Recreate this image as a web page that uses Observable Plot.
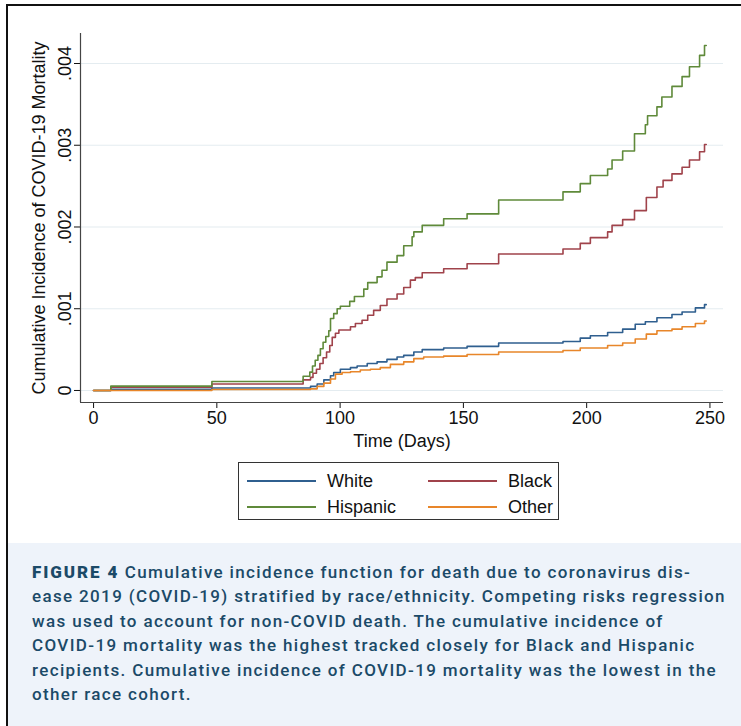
<!DOCTYPE html>
<html>
<head>
<meta charset="utf-8">
<script src="https://cdn.jsdelivr.net/npm/d3@7"></script>
<script src="https://cdn.jsdelivr.net/npm/@observablehq/plot@0.6"></script>
<style>
  html, body { margin: 0; padding: 0; background: #fff; }
  #page { position: relative; width: 741px; height: 726px; overflow: hidden; font-family: "Liberation Sans", Arial, sans-serif; }
  #vline { position: absolute; left: 6px; top: 4px; width: 2px; height: 722px; background: #111; }
  #hline { position: absolute; left: 6px; top: 4px; width: 735px; height: 2px; background: #111; }
  #chart { position: absolute; left: 0; top: 0; }
  #legend { position: absolute; left: 238px; top: 462px; width: 321px; height: 58px; border: 1px solid #333; box-sizing: border-box; }
  .lg-item { position: absolute; height: 20px; display: flex; align-items: center; font-size: 18px; color: #111; }
  .lg-swatch { width: 69px; height: 1.6px; margin-right: 11px; }
  #caption { position: absolute; left: 8px; top: 543px; width: 733px; height: 183px; background: #eef3fa; color: #1b4a68; font-family: Roboto, "Liberation Sans", sans-serif; font-size: 17px; font-weight: 500; letter-spacing: 1.35px; }
  #caption .ln { position: absolute; left: 24px; white-space: nowrap; line-height: 20px; }
  #caption b { font-weight: 900; letter-spacing: 1.9px; }
</style>
</head>
<body>
<div id="page">
  <div id="chart"></div>
  <div id="legend"></div>
  <div id="caption"></div>
  <div id="vline"></div>
  <div id="hline"></div>
</div>
<script>
// ---- data ----
const series = ["White", "Black", "Hispanic", "Other"];
const colors = ["#2f5f8f", "#a0434b", "#5f8a3a", "#e8862a"];

const whiteT = [0, 7, 48, 85, 88, 90.7, 93.4, 96.1, 97.4, 100.1, 104.2, 106.9, 111, 115, 119, 123.1, 125.8, 129.9, 133.3, 142, 151.5, 164.3, 190.4, 197.4, 201.5, 208.5, 214.6, 219.7, 223.8, 228.5, 234.6, 238.7, 244.1, 247.8, 248.5];
const whiteV = [0, 0.000016, 0.00003, 0.00003, 0.00005, 0.00008, 0.00013, 0.00018, 0.00022, 0.00026, 0.00028, 0.0003, 0.00033, 0.00035, 0.00038, 0.00041, 0.00043, 0.00047, 0.0005, 0.00052, 0.00054, 0.00058, 0.0006, 0.00064, 0.00067, 0.00071, 0.00075, 0.00081, 0.00084, 0.00089, 0.00093, 0.00096, 0.00101, 0.00105, 0.00105];

const blackT = [0, 7, 48, 85, 88, 89, 90.4, 91.8, 93.1, 94.5, 95.8, 96.8, 98.1, 99.5, 104.2, 106.2, 108.9, 111.2, 113.6, 116.3, 119, 123.1, 125.8, 128.5, 130.5, 133.3, 142, 151.5, 164.3, 190.4, 197.4, 201.5, 208.5, 210.3, 214.6, 219.4, 224.2, 228.5, 231, 234.6, 238.7, 241.7, 245.8, 247.8, 248.5];
const blackV = [0, 0.00004, 0.00008, 0.00013, 0.00016, 0.00021, 0.00026, 0.00033, 0.0004, 0.00047, 0.00055, 0.00065, 0.0007, 0.00074, 0.00078, 0.00082, 0.00086, 0.00092, 0.00098, 0.00104, 0.00112, 0.00118, 0.00126, 0.00135, 0.00138, 0.00144, 0.00149, 0.00155, 0.00167, 0.00173, 0.0018, 0.00187, 0.00194, 0.00202, 0.00209, 0.0022, 0.00236, 0.00249, 0.00257, 0.00265, 0.00273, 0.00282, 0.00292, 0.00301, 0.00301];

const hispT = [0, 7, 48, 85, 87.7, 88.8, 89.9, 91, 92, 93.1, 94.2, 95.4, 96.1, 97.4, 98.8, 100.1, 103.9, 105.8, 109.6, 111.2, 115, 117, 119, 123.1, 125.8, 129.2, 129.9, 133.3, 142, 151.5, 164.3, 190.4, 197.4, 201.5, 208.5, 210.3, 214.6, 219.4, 223.8, 224.7, 228.5, 230.5, 234.6, 238.7, 241.7, 245.8, 247.8, 248.5];
const hispV = [0, 0.000053, 0.00011, 0.000175, 0.000224, 0.0003, 0.00037, 0.00043, 0.00051, 0.00059, 0.00066, 0.00073, 0.00088, 0.00094, 0.001, 0.00103, 0.00109, 0.00115, 0.00124, 0.00132, 0.00139, 0.00147, 0.00157, 0.00165, 0.00177, 0.00188, 0.00194, 0.00202, 0.0021, 0.00216, 0.00233, 0.00243, 0.00253, 0.00263, 0.00271, 0.00282, 0.00293, 0.00314, 0.00325, 0.00336, 0.00347, 0.00359, 0.00372, 0.00384, 0.00396, 0.0041, 0.00422, 0.00422];

const otherT = [0, 48, 85, 88, 90.7, 93.4, 96.1, 98.1, 100.8, 104.2, 108.2, 112.3, 116.3, 120.4, 125.8, 129.9, 133.9, 142, 151.5, 164.3, 190.4, 197.4, 208.5, 214.6, 219.7, 224.2, 228.5, 234.6, 238.7, 244.1, 247.8, 248.5];
const otherV = [0, 0.000012, 0.000012, 0.00002, 0.00005, 0.00009, 0.00014, 0.0002, 0.00022, 0.00023, 0.00025, 0.00026, 0.00028, 0.00032, 0.00035, 0.00039, 0.00041, 0.00042, 0.00044, 0.00047, 0.00049, 0.00052, 0.00055, 0.00058, 0.00063, 0.00069, 0.00073, 0.00075, 0.00078, 0.00082, 0.00085, 0.00085];

const xTicks = [0, 50, 100, 150, 200, 250];
const yTicks = [0, 0.001, 0.002, 0.003, 0.004];
const xDomain = [-5.3, 255.5];
const yDomain = [-0.000147, 0.004367];

const legendRows = [["White", "Black"], ["Hispanic", "Other"]];

const captionLead = "FIGURE 4";
const captionLines = [
  " Cumulative incidence function for death due to coronavirus dis-",
  "ease 2019 (COVID-19) stratified by race/ethnicity. Competing risks regression",
  "was used to account for non-COVID death. The cumulative incidence of",
  "COVID-19 mortality was the highest tracked closely for Black and Hispanic",
  "recipients. Cumulative incidence of COVID-19 mortality was the lowest in the",
  "other race cohort."
];

// ---- build rows ----
const seriesData = {White: [whiteT, whiteV], Black: [blackT, blackV], Hispanic: [hispT, hispV], Other: [otherT, otherV]};
const rows = [];
for (const s of series) {
  const [T, V] = seriesData[s];
  T.forEach((t, i) => rows.push({race: s, t, v: V[i]}));
}

const yFmt = d => d === 0 ? "0" : d3.format(".3f")(d).replace(/^0/, "");

const chart = Plot.plot({
  width: 741,
  height: 460,
  marginLeft: 80,
  marginRight: 18,
  marginTop: 33,
  marginBottom: 58,
  style: {fontFamily: "'Liberation Sans', Arial, sans-serif", fontSize: "18px", color: "#111", background: "transparent", overflow: "visible"},
  x: {domain: xDomain, ticks: xTicks, tickSize: 6, tickPadding: 3, label: "Time (Days)", labelAnchor: "center", labelOffset: 44, labelArrow: "none"},
  y: {domain: yDomain, ticks: yTicks, tickFormat: yFmt, tickSize: 6, tickPadding: 4, tickRotate: -90, label: "Cumulative Incidence of COVID-19 Mortality", labelAnchor: "center", labelOffset: 48, labelArrow: "none"},
  color: {domain: series, range: colors},
  marks: [
    Plot.ruleY(yTicks, {stroke: "#e4ecf0", strokeWidth: 1.2}),
    Plot.ruleX([xDomain[0]], {stroke: "#444", strokeWidth: 1.2}),
    Plot.ruleY([yDomain[0]], {stroke: "#444", strokeWidth: 1.2}),
    Plot.line(rows, {x: "t", y: "v", z: "race", stroke: "race", curve: "step-after", strokeWidth: 1.6})
  ]
});
document.getElementById("chart").appendChild(chart);

// ---- legend ----
const legend = document.getElementById("legend");
const colX = [8, 189];
const rowY = [8, 34];
legendRows.forEach((r, ri) => r.forEach((name, ci) => {
  const item = document.createElement("div");
  item.className = "lg-item";
  item.style.left = colX[ci] + "px";
  item.style.top = rowY[ri] + "px";
  const sw = document.createElement("div");
  sw.className = "lg-swatch";
  sw.style.background = colors[series.indexOf(name)];
  item.appendChild(sw);
  const tx = document.createElement("span");
  tx.textContent = name;
  item.appendChild(tx);
  legend.appendChild(item);
}));

// ---- caption ----
const cap = document.getElementById("caption");
captionLines.forEach((line, i) => {
  const d = document.createElement("div");
  d.className = "ln";
  d.style.top = (19 + i * 24.4) + "px";
  if (i === 0) {
    const b = document.createElement("b");
    b.textContent = captionLead;
    d.appendChild(b);
  }
  d.appendChild(document.createTextNode(line));
  cap.appendChild(d);
});
</script>
</body>
</html>
